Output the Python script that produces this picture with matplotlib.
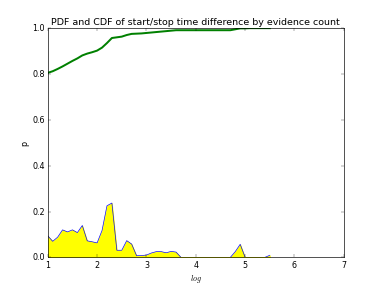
import matplotlib
matplotlib.use('Agg')
import matplotlib.pyplot as plt

plt.style.use('classic')

# log values (0.1 steps)
x = [1.0, 1.1, 1.2, 1.3, 1.4, 1.5, 1.6, 1.7, 1.8, 1.9,
     2.0, 2.1, 2.2, 2.3, 2.4, 2.5, 2.6, 2.7, 2.8, 2.9,
     3.0, 3.1, 3.2, 3.3, 3.4, 3.5, 3.6, 3.7, 3.8, 3.9,
     4.0, 4.1, 4.2, 4.3, 4.4, 4.5, 4.6, 4.7, 4.8, 4.9,
     5.0, 5.1, 5.2, 5.3, 5.4, 5.5]

pdf = [0.094, 0.070, 0.088, 0.120, 0.111, 0.120, 0.108, 0.139, 0.072, 0.068,
       0.063, 0.117, 0.225, 0.237, 0.031, 0.031, 0.073, 0.058, 0.007, 0.008,
       0.010, 0.019, 0.025, 0.025, 0.020, 0.026, 0.023, 0.0, 0.0, 0.0,
       0.0, 0.0, 0.0, 0.0, 0.0, 0.0, 0.0, 0.0, 0.025, 0.057,
       0.0, 0.0, 0.0, 0.0, 0.0, 0.009]

cdf = [0.805, 0.812, 0.822, 0.833, 0.845, 0.857, 0.868, 0.881, 0.889, 0.895,
       0.902, 0.915, 0.935, 0.957, 0.960, 0.963, 0.970, 0.975, 0.976, 0.977,
       0.979, 0.981, 0.983, 0.985, 0.987, 0.989, 0.991, 0.991, 0.991, 0.991,
       0.991, 0.991, 0.991, 0.991, 0.991, 0.991, 0.991, 0.991, 0.995, 0.999,
       0.999, 1.0, 1.0, 1.0, 1.0, 1.0]

fig = plt.figure(figsize=(8, 6), dpi=47.75)
ax = fig.add_subplot(111)

ax.fill_between(x, pdf, 0, color='yellow')
ax.plot(x, pdf, color='blue', linewidth=1)
ax.plot(x, cdf, color='green', linewidth=3)

ax.set_xlim(1, 7)
ax.set_ylim(0, 1)
ax.set_xlabel('$log$')
ax.set_ylabel('p')
ax.set_title('PDF and CDF of start/stop time difference by evidence count')

fig.savefig('out.png', dpi=47.75)
